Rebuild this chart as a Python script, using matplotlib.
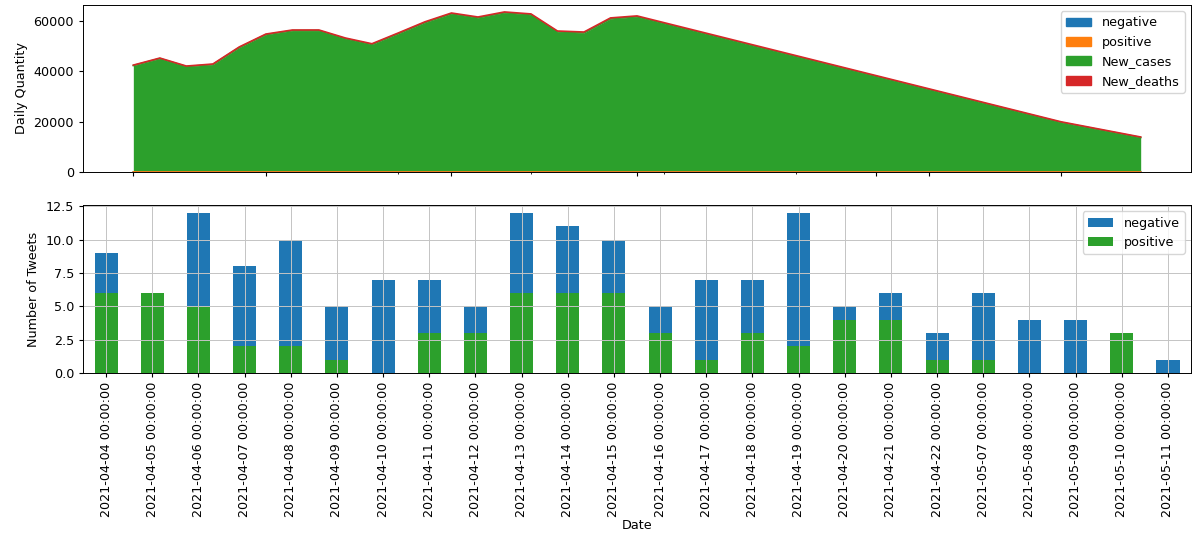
import numpy as np
import pandas as pd
import matplotlib
matplotlib.use('Agg')
import matplotlib.pyplot as plt
import matplotlib.dates as mdates

# top panel: daily covid numbers (plus tweet counts, tiny on this scale)
top_dates = pd.to_datetime([
    '2021-04-04', '2021-04-05', '2021-04-06', '2021-04-07', '2021-04-08',
    '2021-04-09', '2021-04-10', '2021-04-11', '2021-04-12', '2021-04-13',
    '2021-04-14', '2021-04-15', '2021-04-16', '2021-04-17', '2021-04-18',
    '2021-04-19', '2021-04-20', '2021-04-21', '2021-04-22', '2021-04-23',
    '2021-05-09', '2021-05-10', '2021-05-11', '2021-05-12'])
top_negative = [3, 0, 7, 6, 8, 4, 7, 4, 2, 6, 5, 4, 2, 6, 4, 10, 1, 2, 2, 0, 4, 0, 1, 0]
top_positive = [6, 6, 5, 2, 2, 1, 0, 3, 3, 6, 6, 6, 3, 1, 3, 2, 4, 4, 1, 0, 0, 3, 0, 0]
new_cases = [42300, 45100, 41900, 42700, 49500, 54600, 56200, 56200, 53000, 50700,
             55000, 59400, 62900, 61300, 63300, 62500, 55700, 55300, 60900, 61700,
             19700, 17700, 15700, 13700]
new_deaths = [180, 190, 200, 210, 220, 230, 240, 250, 260, 270,
              280, 290, 300, 310, 320, 330, 340, 340, 350, 350,
              230, 220, 210, 200]

# bottom panel: tweets per day
dates = ['2021-04-04', '2021-04-05', '2021-04-06', '2021-04-07', '2021-04-08',
         '2021-04-09', '2021-04-10', '2021-04-11', '2021-04-12', '2021-04-13',
         '2021-04-14', '2021-04-15', '2021-04-16', '2021-04-17', '2021-04-18',
         '2021-04-19', '2021-04-20', '2021-04-21', '2021-04-22', '2021-05-07',
         '2021-05-08', '2021-05-09', '2021-05-10', '2021-05-11']
negative = [3, 0, 7, 6, 8, 4, 7, 4, 2, 6, 5, 4, 2, 6, 4, 10, 1, 2, 2, 5, 4, 4, 0, 1]
positive = [6, 6, 5, 2, 2, 1, 0, 3, 3, 6, 6, 6, 3, 1, 3, 2, 4, 4, 1, 1, 0, 0, 3, 0]

colors = ['#1f77b4', '#ff7f0e', '#2ca02c', '#d62728']
fs = 9.2

fig = plt.figure(figsize=(11.92, 5.34), dpi=100)
ax1 = fig.add_axes([0.0696, 0.678, 0.9296, 0.3127])
ax2 = fig.add_axes([0.0696, 0.3015, 0.9296, 0.3146])

# stacked area
layers = np.vstack([top_negative, top_positive, new_cases, new_deaths]).astype(float)
stacked = np.cumsum(layers, axis=0)
labels = ['negative', 'positive', 'New_cases', 'New_deaths']
x = mdates.date2num(top_dates)
prev = np.zeros(len(x))
handles = []
for i in range(4):
    ax1.fill_between(x, prev, stacked[i], color=colors[i], linewidth=0)
    ax1.plot(x, stacked[i], color=colors[i], linewidth=1.2)
    handles.append(plt.Rectangle((0, 0), 1, 1, color=colors[i]))
    prev = stacked[i]
ax1.set_ylim(0, 66400)
ax1.set_ylabel('Daily Quantity', fontsize=fs)
ax1.xaxis.set_major_locator(mdates.DayLocator(bymonthday=[4, 9, 16, 23, 2]))
ax1.xaxis.set_minor_locator(mdates.DayLocator(bymonthday=[14, 19, 24, 29]))
ax1.tick_params(axis='x', labelbottom=False, length=2.9)
ax1.tick_params(axis='x', which='minor', length=1.6)
ax1.tick_params(axis='y', labelsize=fs, length=2.9)
ax1.legend(handles, labels, loc='upper right', fontsize=fs)

# bars: blue is the total, green (positive) drawn over it
pos_arr = np.array(positive)
neg_arr = np.array(negative)
xb = np.arange(len(dates))
ax2.bar(xb, pos_arr + neg_arr, width=0.5, color=colors[0], label='negative')
ax2.bar(xb, pos_arr, width=0.5, color=colors[2], label='positive')
ax2.set_xlim(-0.5, len(dates) - 0.5)
ax2.set_ylim(0, 12.6)
ax2.set_yticks([0, 2.5, 5, 7.5, 10, 12.5])
ax2.set_xticks(xb)
ax2.set_xticklabels([d + ' 00:00:00' for d in dates], rotation=90, fontsize=fs)
ax2.tick_params(axis='y', labelsize=fs, length=2.9)
ax2.tick_params(axis='x', length=2.9)
ax2.grid(True, color='#c4c4c4', linewidth=0.7)
ax2.set_ylabel('Number of Tweets', fontsize=fs)
ax2.set_xlabel('Date', fontsize=fs, labelpad=1)
ax2.legend(loc='upper right', fontsize=fs)

for ax in (ax1, ax2):
    for s in ax.spines.values():
        s.set_linewidth(0.7)

fig.savefig('out.png', dpi=100)
